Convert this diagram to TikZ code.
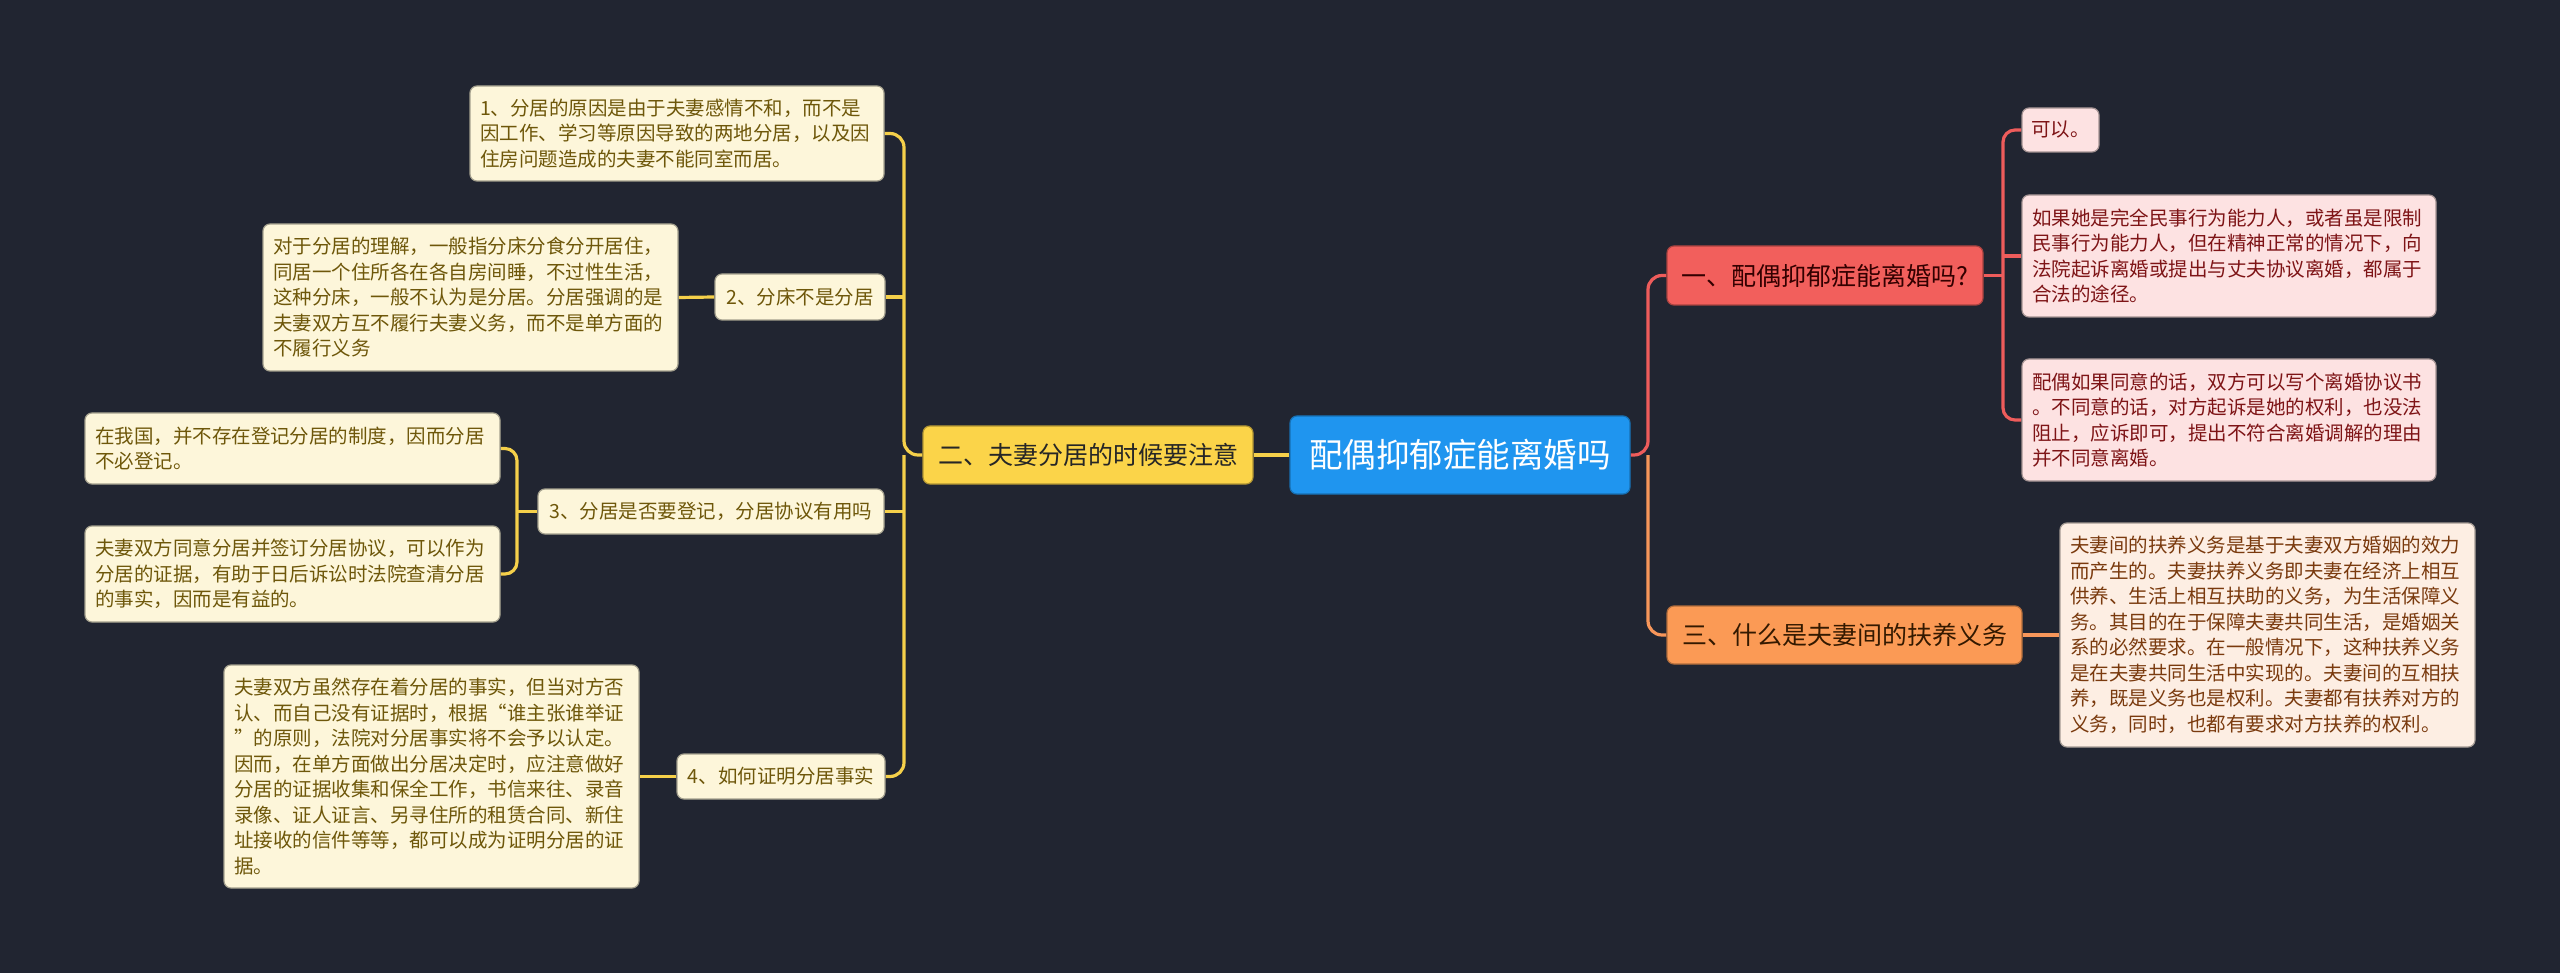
\documentclass[tikz,border=0pt]{standalone}
\usepackage{fontspec}
\setmainfont{Noto Sans CJK SC}
\usetikzlibrary{backgrounds}
\definecolor{bg}{HTML}{212531}
\definecolor{rootc}{HTML}{1F95EF}
\definecolor{yel}{HTML}{FBD449}
\definecolor{yline}{HTML}{F5D04A}
\definecolor{cream}{HTML}{FDF6DA}
\definecolor{olive}{HTML}{6E570A}
\definecolor{redc}{HTML}{F25F5C}
\definecolor{rlinec}{HTML}{EE5C5B}
\definecolor{pink}{HTML}{FDE2E2}
\definecolor{maroon}{HTML}{7E1416}
\definecolor{orac}{HTML}{FB9A55}
\definecolor{olinec}{HTML}{F7965A}
\definecolor{peach}{HTML}{FDEEE3}
\definecolor{brownt}{HTML}{7A3A0E}
\tikzset{
  bx/.style 2 args={rectangle, rounded corners=7pt, inner sep=0pt, minimum width=#1, minimum height=#2, line width=1.2pt},
  tw/.style={text width=#1, inner xsep=10pt, align=left},
  small/.style={font=\fontsize{19.5}{25.5}\selectfont},
  mid/.style={font=\fontsize{25}{30}\selectfont},
  leafY/.style={fill=cream, draw=black!35!cream, text=olive, small},
  leafR/.style={fill=pink, draw=black!35!pink, text=maroon, small},
  leafO/.style={fill=peach, draw=black!35!peach, text=brownt, small},
  ylink/.style={draw=yline, line width=3.2pt},
  rlink/.style={draw=rlinec, line width=3.2pt},
  olink/.style={draw=olinec, line width=3.2pt},
}
\begin{document}
\begin{tikzpicture}[x=1pt,y=-1pt]
\useasboundingbox (0,0) rectangle (2560,973);

% root
\node[bx={340pt}{78pt}, fill=rootc, draw=black!25!rootc, text=white, font=\fontsize{33.5}{40}\selectfont] (root) at (1460,455) {配偶抑郁症能离婚吗};

% left branch
\node[bx={330pt}{58pt}, fill=yel, draw=black!30!yel, text=black!85, mid] (L2) at (1088,455) {二、夫妻分居的时候要注意};

\node[bx={414pt}{95pt}, leafY, tw=394pt] (i1) at (677,133.5) {1、分居的原因是由于夫妻感情不和，而不是\\因工作、学习等原因导致的两地分居，以及因\\住房问题造成的夫妻不能同室而居。};

\node[bx={170pt}{46pt}, leafY] (i2) at (800,297) {2、分床不是分居};
\node[bx={415pt}{147pt}, leafY, tw=395pt] (c2) at (470.5,297.5) {对于分居的理解，一般指分床分食分开居住，\\同居一个住所各在各自房间睡，不过性生活，\\这种分床，一般不认为是分居。分居强调的是\\夫妻双方互不履行夫妻义务，而不是单方面的\\不履行义务};

\node[bx={346pt}{45pt}, leafY] (i3) at (711,511.5) {3、分居是否要登记，分居协议有用吗};
\node[bx={415pt}{71pt}, leafY, tw=395pt] (c3a) at (292.5,448.5) {在我国，并不存在登记分居的制度，因而分居\\不必登记。};
\node[bx={415pt}{96pt}, leafY, tw=395pt] (c3b) at (292.5,574) {夫妻双方同意分居并签订分居协议，可以作为\\分居的证据，有助于日后诉讼时法院查清分居\\的事实，因而是有益的。};

\node[bx={208pt}{45pt}, leafY] (i4) at (781,776.5) {4、如何证明分居事实};
\node[bx={415pt}{223pt}, leafY, tw=395pt] (c4) at (431.5,776.5) {夫妻双方虽然存在着分居的事实，但当对方否\\认、而自己没有证据时，根据“谁主张谁举证\\”的原则，法院对分居事实将不会予以认定。\\因而，在单方面做出分居决定时，应注意做好\\分居的证据收集和保全工作，书信来往、录音\\录像、证人证言、另寻住所的租赁合同、新住\\址接收的信件等等，都可以成为证明分居的证\\据。};

% right branch
\node[bx={316pt}{59pt}, fill=redc, draw=black!30!redc, text=black!80!red, mid] (R1) at (1825,275.5) {一、配偶抑郁症能离婚吗?};
\node[bx={77pt}{44pt}, leafR] (r1) at (2060.5,130) {可以。};
\node[bx={414pt}{122pt}, leafR, tw=394pt] (r2) at (2229,256) {如果她是完全民事行为能力人，或者虽是限制\\民事行为能力人，但在精神正常的情况下，向\\法院起诉离婚或提出与丈夫协议离婚，都属于\\合法的途径。};
\node[bx={414pt}{122pt}, leafR, tw=394pt] (r3) at (2229,420) {配偶如果同意的话，双方可以写个离婚协议书\\。不同意的话，对方起诉是她的权利，也没法\\阻止，应诉即可，提出不符合离婚调解的理由\\并不同意离婚。};

\node[bx={355pt}{58pt}, fill=orac, draw=black!30!orac, text=black!80!orange, mid] (O1) at (1844.5,635) {三、什么是夫妻间的扶养义务};
\node[bx={415pt}{224pt}, leafO, tw=395pt] (oc) at (2267.5,635) {夫妻间的扶养义务是基于夫妻双方婚姻的效力\\而产生的。夫妻扶养义务即夫妻在经济上相互\\供养、生活上相互扶助的义务，为生活保障义\\务。其目的在于保障夫妻共同生活，是婚姻关\\系的必然要求。在一般情况下，这种扶养义务\\是在夫妻共同生活中实现的。夫妻间的互相扶\\养，既是义务也是权利。夫妻都有扶养对方的\\义务，同时，也都有要求对方扶养的权利。};

% trunk points
\coordinate (tL) at (904,455);
\coordinate (t3) at (517,511.5);
\coordinate (tR) at (1648,455);
\coordinate (tRR) at (2003,275.5);

\begin{pgfonlayer}{background}
\fill[bg] (0,0) rectangle (2560,973);
\draw[ylink] (root.west) -- (L2.east);
\draw[ylink, rounded corners=14pt] (L2.west) -- (tL) |- (i1.east);
\draw[ylink, rounded corners=14pt] (tL) |- (i4.east);
\draw[ylink] (i2.east) -- (i2.east -| tL);
\draw[ylink] (i3.east) -- (i3.east -| tL);
\draw[ylink] (i2.west) -- (c2.east);
\draw[ylink] (i3.west) -- (t3);
\draw[ylink, rounded corners=12pt] (c3a.east) -| (t3) |- (c3b.east);
\draw[ylink] (i4.west) -- (c4.east);

\draw[rlink, rounded corners=14pt] (root.east) -- (tR) |- (R1.west);
\draw[olink, rounded corners=14pt] (tR) |- (O1.west);
\draw[rlink] (R1.east) -- (tRR);
\draw[rlink, rounded corners=12pt] (r1.west) -| (tRR) |- (r3.west);
\draw[rlink] (r2.west) -- (r2.west -| tRR);
\draw[olink] (O1.east) -- (oc.west);
\end{pgfonlayer}
\end{tikzpicture}
\end{document}
